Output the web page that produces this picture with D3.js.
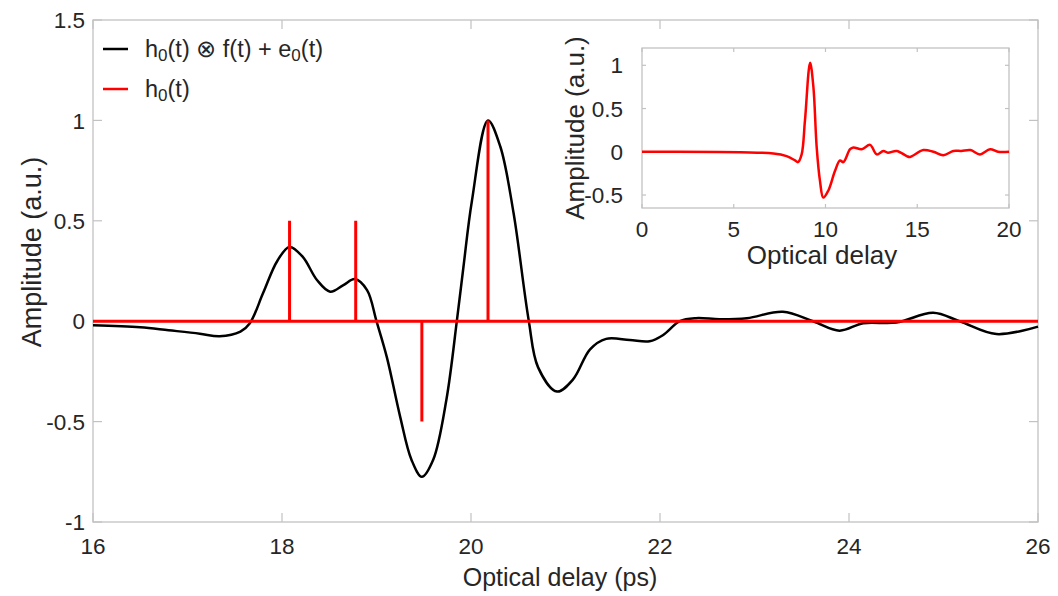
<!DOCTYPE html>
<html>
<head>
<meta charset="UTF-8">
<script src="https://d3js.org/d3.v7.min.js"></script>
<style>
  body { margin: 0; background: #fff; }
  svg text { font-family: "Liberation Sans", Arial, Helvetica, sans-serif; fill: #262626; }
</style>
</head>
<body>
<div id="chart"></div>
<script>
    // measured signal: h0(t) convolved with f(t) plus noise
    const measTime = [16, 16.5, 16.8, 17.13, 17.34, 17.56, 17.66, 17.8, 17.95, 18.08, 18.22, 18.37, 18.51, 18.65, 18.77, 18.9, 19.0, 19.11, 19.25, 19.37, 19.48, 19.6, 19.74, 19.85, 19.92, 20.01, 20.18, 20.31, 20.45, 20.61, 20.71, 20.91, 21.08, 21.26, 21.43, 21.68, 21.89, 22.03, 22.21, 22.38, 22.63, 22.92, 23.3, 23.62, 23.9, 24.15, 24.5, 24.89, 25.17, 25.56, 26];
    const measAmp = [-0.02, -0.03, -0.045, -0.062, -0.075, -0.052, -0.01, 0.14, 0.3, 0.37, 0.32, 0.205, 0.147, 0.18, 0.21, 0.155, 0, -0.18, -0.475, -0.69, -0.775, -0.69, -0.39, 0, 0.27, 0.6, 1.0, 0.87, 0.54, 0.006, -0.23, -0.35, -0.29, -0.14, -0.088, -0.094, -0.1, -0.07, 0, 0.015, 0.01, 0.015, 0.047, 0, -0.047, -0.01, -0.007, 0.042, 0, -0.064, -0.027];

    // sparse impulse response h0(t)
    const spikeTime = [18.08, 18.78, 19.48, 20.18];
    const spikeAmp = [0.5, 0.5, -0.5, 1.0];

    // inset pulse
    const pulseTime = [0, 7.16, 7.88, 8.34, 8.5, 8.7, 8.88, 9.16, 9.34, 9.52, 9.7, 9.88, 10.15, 10.52, 10.79, 10.97, 11.34, 11.52, 11.97, 12.43, 12.79, 13.15, 13.4, 13.88, 14.43, 14.6, 15.33, 15.88, 16.42, 16.97, 17.4, 17.9, 18.42, 18.97, 19.4, 20];
    const pulseAmp = [0, -0.02, -0.05, -0.1, -0.12, -0.03, 0.36, 1.03, 0.75, 0.05, -0.34, -0.53, -0.45, -0.22, -0.1, -0.12, 0.03, 0.05, 0.03, 0.08, -0.03, 0.01, -0.01, 0.01, -0.05, -0.06, 0.02, 0, -0.04, 0.01, 0.01, 0.02, -0.03, 0.03, 0, 0];

    const xTicks = [16, 18, 20, 22, 24, 26];
    const yTicks = [-1, -0.5, 0, 0.5, 1, 1.5];
    const insetXTicks = [0, 5, 10, 15, 20];
    const insetYTicks = [-0.5, 0, 0.5, 1];

    const W = 1058, H = 596;
    const axisColor = '#c2c2c2';

    const svg = d3.select('#chart').append('svg')
        .attr('width', W)
        .attr('height', H);

    svg.append('rect').attr('width', W).attr('height', H).attr('fill', '#fff');

    function drawFrame(g, x, y, xt, yt, tickLen) {
        const [x0, x1] = x.range();
        const [y0, y1] = y.range();
        g.append('rect')
            .attr('x', x0).attr('y', y1)
            .attr('width', x1 - x0).attr('height', y0 - y1)
            .attr('fill', 'none').attr('stroke', axisColor).attr('stroke-width', 1.3);
        xt.forEach(t => {
            g.append('line').attr('x1', x(t)).attr('x2', x(t)).attr('y1', y0).attr('y2', y0 - tickLen)
                .attr('stroke', axisColor).attr('stroke-width', 1.2);
            g.append('line').attr('x1', x(t)).attr('x2', x(t)).attr('y1', y1).attr('y2', y1 + tickLen)
                .attr('stroke', axisColor).attr('stroke-width', 1.2);
        });
        yt.forEach(t => {
            g.append('line').attr('x1', x0).attr('x2', x0 + tickLen).attr('y1', y(t)).attr('y2', y(t))
                .attr('stroke', axisColor).attr('stroke-width', 1.2);
            g.append('line').attr('x1', x1).attr('x2', x1 - tickLen).attr('y1', y(t)).attr('y2', y(t))
                .attr('stroke', axisColor).attr('stroke-width', 1.2);
        });
    }

    // ---- main axes ----
    const x = d3.scaleLinear().domain([16, 26]).range([93, 1038]);
    const y = d3.scaleLinear().domain([-1, 1.5]).range([522, 20]);

    const main = svg.append('g');
    drawFrame(main, x, y, xTicks, yTicks, 9);

    main.selectAll('.xt').data(xTicks).enter().append('text')
        .attr('x', d => x(d)).attr('y', 554)
        .attr('text-anchor', 'middle').attr('font-size', 22.5)
        .text(d => d);
    main.selectAll('.yt').data(yTicks).enter().append('text')
        .attr('x', 85).attr('y', d => y(d)).attr('dy', '0.36em')
        .attr('text-anchor', 'end').attr('font-size', 22.5)
        .text(d => d);

    main.append('text')
        .attr('x', 560).attr('y', 586)
        .attr('text-anchor', 'middle').attr('font-size', 25)
        .text('Optical delay (ps)');
    main.append('text')
        .attr('transform', 'translate(41,252) rotate(-90)')
        .attr('text-anchor', 'middle').attr('font-size', 27)
        .text('Amplitude (a.u.)');

    // h0(t) as a zero baseline with vertical spikes
    const hPts = [[16, 0]];
    spikeTime.forEach((t, i) => {
        hPts.push([t, 0], [t, spikeAmp[i]], [t, 0]);
    });
    hPts.push([26, 0]);

    const lineLin = d3.line().x(d => x(d[0])).y(d => y(d[1]));
    const lineSmooth = d3.line().x(d => x(d[0])).y(d => y(d[1])).curve(d3.curveCatmullRom);

    main.append('path')
        .attr('d', lineSmooth(measTime.map((t, i) => [t, measAmp[i]])))
        .attr('fill', 'none').attr('stroke', '#000').attr('stroke-width', 2.5);

    main.append('path')
        .attr('d', lineLin(hPts))
        .attr('fill', 'none').attr('stroke', '#ff0000').attr('stroke-width', 3);

    // legend
    const legend = svg.append('g');
    legend.append('line').attr('x1', 103).attr('x2', 128).attr('y1', 49).attr('y2', 49)
        .attr('stroke', '#000').attr('stroke-width', 2.5);
    legend.append('line').attr('x1', 103).attr('x2', 128).attr('y1', 89).attr('y2', 89)
        .attr('stroke', '#ff0000').attr('stroke-width', 2.5);

    const l1 = legend.append('text').attr('x', 145).attr('y', 57).attr('font-size', 23.5);
    l1.append('tspan').text('h');
    l1.append('tspan').attr('dy', 4).attr('font-size', 17).text('0');
    l1.append('tspan').attr('dy', -4).text('(t) \u2297 f(t) + e');
    l1.append('tspan').attr('dy', 4).attr('font-size', 17).text('0');
    l1.append('tspan').attr('dy', -4).text('(t)');

    const l2 = legend.append('text').attr('x', 145).attr('y', 97).attr('font-size', 23.5);
    l2.append('tspan').text('h');
    l2.append('tspan').attr('dy', 4).attr('font-size', 17).text('0');
    l2.append('tspan').attr('dy', -4).text('(t)');

    // ---- inset ----
    const xi = d3.scaleLinear().domain([0, 20]).range([642, 1009]);
    const yi = d3.scaleLinear().domain([-0.65, 1.2]).range([208, 48]);

    const inset = svg.append('g');
    inset.append('rect').attr('x', 642).attr('y', 48).attr('width', 367).attr('height', 160).attr('fill', '#fff');
    drawFrame(inset, xi, yi, insetXTicks, insetYTicks, 4);

    inset.selectAll('.xt').data(insetXTicks).enter().append('text')
        .attr('x', d => xi(d)).attr('y', 237)
        .attr('text-anchor', 'middle').attr('font-size', 22.5)
        .text(d => d);
    inset.selectAll('.yt').data(insetYTicks).enter().append('text')
        .attr('x', 623).attr('y', d => yi(d)).attr('dy', '0.36em')
        .attr('text-anchor', 'end').attr('font-size', 22.5)
        .text(d => d);

    inset.append('text')
        .attr('x', 822).attr('y', 264)
        .attr('text-anchor', 'middle').attr('font-size', 26)
        .text('Optical delay');
    inset.append('text')
        .attr('transform', 'translate(584,128) rotate(-90)')
        .attr('text-anchor', 'middle').attr('font-size', 26)
        .text('Amplitude (a.u.)');

    const lineInset = d3.line().x(d => xi(d[0])).y(d => yi(d[1])).curve(d3.curveCatmullRom);
    inset.append('path')
        .attr('d', lineInset(pulseTime.map((t, i) => [t, pulseAmp[i]])))
        .attr('fill', 'none').attr('stroke', '#ff0000').attr('stroke-width', 2.5);
</script>
</body>
</html>
